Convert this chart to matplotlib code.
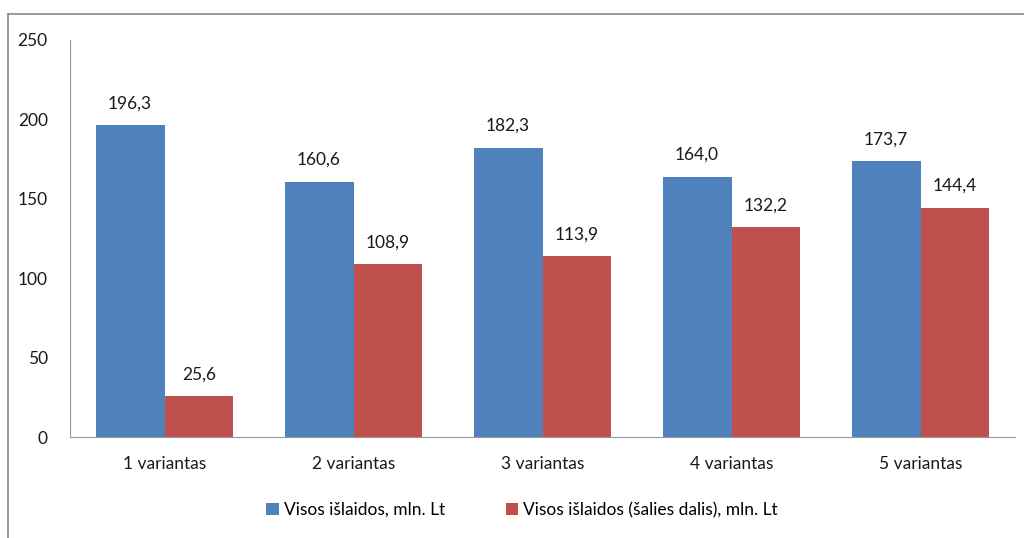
import matplotlib.pyplot as plt
import numpy as np

# Data
categories = ['1 variantas', '2 variantas', '3 variantas', '4 variantas', '5 variantas']
visos = [196.3, 160.6, 182.3, 164.0, 173.7]
salies = [25.6, 108.9, 113.9, 132.2, 144.4]
labels = ['Visos išlaidos, mln. Lt', 'Visos išlaidos (šalies dalis), mln. Lt']

plt.rcParams['font.family'] = ['Lato', 'DejaVu Sans']

fig = plt.figure(figsize=(10.24, 5.38), dpi=100)
ax = fig.add_axes([70 / 1024, 1 - 437 / 538, 945 / 1024, 397 / 538])

x = np.arange(len(categories))
w = 0.365
b1 = ax.bar(x - w / 2, visos, w, color='#4F81BD', label=labels[0])
b2 = ax.bar(x + w / 2, salies, w, color='#C0504D', label=labels[1])

def fmt(v):
    return f'{v:.1f}'.replace('.', ',')

for bars, vals in ((b1, visos), (b2, salies)):
    for r, v in zip(bars, vals):
        ax.annotate(fmt(v), (r.get_x() + r.get_width() / 2, v), xytext=(0, 10),
                    textcoords='offset points', ha='center', va='bottom', fontsize=12.5, color='#1a1a1a')

ax.set_xlim(-0.5, len(categories) - 0.5)
ax.set_ylim(0, 250)
ax.set_yticks(range(0, 251, 50))
ax.set_xticks(x)
ax.set_xticklabels(categories)
ax.tick_params(axis='both', length=0, labelsize=12.5, colors='#1a1a1a')
ax.tick_params(axis='y', pad=16)
ax.tick_params(axis='x', pad=14)
for s in ('top', 'right'):
    ax.spines[s].set_visible(False)
for s in ('left', 'bottom'):
    ax.spines[s].set_color('#999999')

leg = fig.legend(loc='center', bbox_to_anchor=(522 / 1024, 1 - 510 / 538), ncol=2, frameon=False,
                 fontsize=12.5, handlelength=0.7, handleheight=0.7, columnspacing=3.5, handletextpad=0.3)

# outer chart border (top and left visible)
fig.add_artist(plt.Line2D([8 / 1024, 1.0], [1 - 14 / 538] * 2, color='#888888', lw=1.2, transform=fig.transFigure))
fig.add_artist(plt.Line2D([8 / 1024] * 2, [0.0, 1 - 14 / 538], color='#888888', lw=1.2, transform=fig.transFigure))

fig.savefig('out.png', dpi=100)
